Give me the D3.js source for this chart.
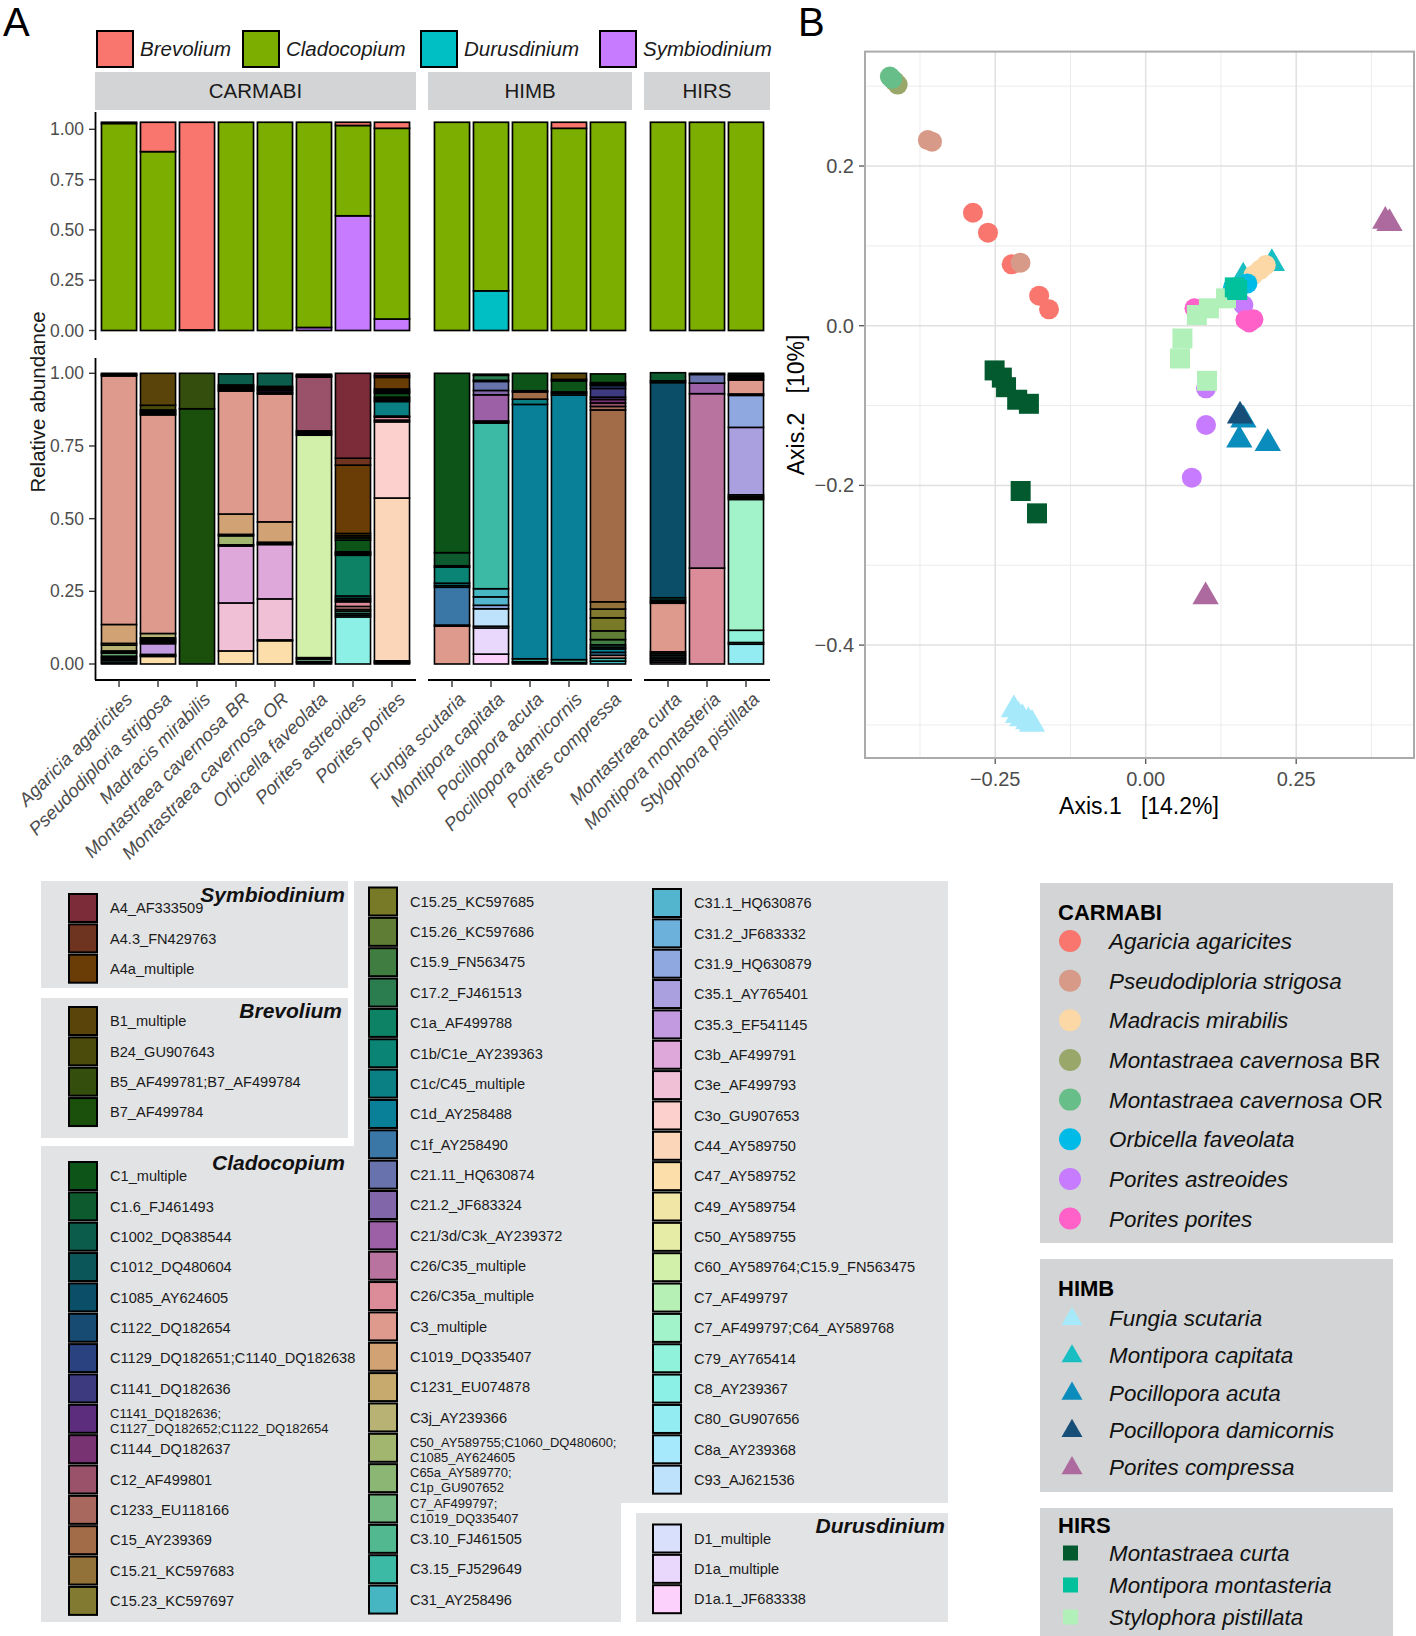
<!DOCTYPE html>
<html><head><meta charset="utf-8">
<script src="https://cdn.jsdelivr.net/npm/d3@7"></script>
<style>
body{margin:0;background:#fff}
svg{display:block}
text{font-family:"Liberation Sans",Arial,Helvetica,sans-serif}
</style>
</head><body>
<svg id="chart" width="1416" height="1636"></svg>
<script>
// ---------------- DATA ----------------
const sites = ["CARMABI", "HIMB", "HIRS"];
const speciesCARMABI = ["Agaricia agaricites","Pseudodiploria strigosa","Madracis mirabilis","Montastraea cavernosa BR","Montastraea cavernosa OR","Orbicella faveolata","Porites astreoides","Porites porites"];
const speciesHIMB = ["Fungia scutaria","Montipora capitata","Pocillopora acuta","Pocillopora damicornis","Porites compressa"];
const speciesHIRS = ["Montastraea curta","Montipora montasteria","Stylophora pistillata"];
const colorsCARMABI = ["#F8766D","#D89A88","#FCD8A6","#99A86A","#68BE88","#00BBE8","#C77CFF","#FF61C9"];
const colorsHIMB = ["#A6E9FB","#19BEC2","#0A8CBC","#174E78","#AD6A9F"];
const colorsHIRS = ["#035A2E","#00C19B","#B1F1B9"];

const genera = ["Brevolium","Cladocopium","Durusdinium","Symbiodinium"];
const generaColors = ["#F8766D","#7CAE00","#00BFC4","#C77CFF"];
// per bar, in species order (CARMABI, HIMB, HIRS)
const brevolium    = [0.006,0.146,1.032,0,0,0,0.016,0.03,0,0,0,0.03,0,0,0,0];
const cladocopium  = [1.029,0.889,0.003,1.035,1.035,1.02,0.449,0.948,1.035,0.838,1.035,1.005,1.035,1.035,1.035,1.035];
const durusdinium  = [0,0,0,0,0,0,0,0,0,0.197,0,0,0,0,0,0];
const symbiodinium = [0,0,0,0,0,0.015,0.57,0.057,0,0,0,0,0,0,0,0];
const yTicksA = [0, 0.25, 0.5, 0.75, 1];

const subtypeNames = ["A4_AF333509","A4.3_FN429763","A4a_multiple",
"B1_multiple","B24_GU907643","B5_AF499781;B7_AF499784","B7_AF499784",
"C1_multiple","C1.6_FJ461493","C1002_DQ838544","C1012_DQ480604","C1085_AY624605","C1122_DQ182654","C1129_DQ182651;C1140_DQ182638","C1141_DQ182636","C1141_DQ182636;C1127_DQ182652;C1122_DQ182654","C1144_DQ182637","C12_AF499801","C1233_EU118166","C15_AY239369","C15.21_KC597683","C15.23_KC597697",
"C15.25_KC597685","C15.26_KC597686","C15.9_FN563475","C17.2_FJ461513","C1a_AF499788","C1b/C1e_AY239363","C1c/C45_multiple","C1d_AY258488","C1f_AY258490","C21.11_HQ630874","C21.2_JF683324","C21/3d/C3k_AY239372","C26/C35_multiple","C26/C35a_multiple","C3_multiple","C1019_DQ335407","C1231_EU074878","C3j_AY239366","C50_AY589755;C1060_DQ480600;C1085_AY624605","C65a_AY589770;C1p_GU907652","C7_AF499797;C1019_DQ335407","C3.10_FJ461505","C3.15_FJ529649","C31_AY258496",
"C31.1_HQ630876","C31.2_JF683332","C31.9_HQ630879","C35.1_AY765401","C35.3_EF541145","C3b_AF499791","C3e_AF499793","C3o_GU907653","C44_AY589750","C47_AY589752","C49_AY589754","C50_AY589755","C60_AY589764;C15.9_FN563475","C7_AF499797","C7_AF499797;C64_AY589768","C79_AY765414","C8_AY239367","C80_GU907656","C8a_AY239368","C93_AJ621536",
"D1_multiple","D1a_multiple","D1a.1_JF683338"];
const subtypeColors = ["#7b2c38","#6f3420","#6a3d06",
"#5b4409","#4b4b0c","#344e0e","#1a500c",
"#0c5417","#0d5a2f","#0b5c4a","#0a5659","#0a4f67","#174b72","#2a4280","#3e3a80","#5b2d7c","#773372","#99526a","#a9685e","#a26c48","#93723a","#827a30",
"#787a28","#5f7d34","#3f7d40","#2b7c4e","#0d8264","#0a8474","#0a8084","#0a8098","#3a76a6","#6872ac","#8266aa","#9c60a6","#b8749e","#dc8c98","#de9a8c","#d0a274","#c6aa6e","#b8b274","#a2b670","#8cb674","#72b880","#52b890","#3cbaa6","#46b6c2",
"#54b6ce","#6cb0dc","#90a8e0","#aaa0e0","#c29ae0","#dea8da","#f0c0d6","#fcd0cc","#fcd6b8","#fcdeaa","#f2e6a6","#e6eca6","#d2f0aa","#b6f0b4","#a2f2ca","#90f2da","#8cf0e6","#92ecf2","#a6e8fc","#bee2fc",
"#d8e0fc","#ead8fc","#fcd2fc"];

// subtype composition per bar (relative abundance)
const compAgaricia = [["C1_multiple",0.003],["C1002_DQ838544",0.003],["C15_AY239369",0.003],["C3_multiple",0.855],["C1019_DQ335407",0.065],["C1231_EU074878",0.006],["C3j_AY239366",0.02],["C50_AY589755;C1060_DQ480600;C1085_AY624605",0.004],["C65a_AY589770;C1p_GU907652",0.004],["C7_AF499797;C1019_DQ335407",0.01],["C3.10_FJ461505",0.005],["C3.15_FJ529649",0.005],["C31_AY258496",0.006],["C8_AY239367",0.007],["C93_AJ621536",0.004]];
const compPseudodiploria = [["B1_multiple",0.11],["B24_GU907643",0.016],["B5_AF499781;B7_AF499784",0.004],["C1_multiple",0.005],["C1002_DQ838544",0.004],["C15_AY239369",0.004],["C3_multiple",0.752],["C3j_AY239366",0.015],["C50_AY589755;C1060_DQ480600;C1085_AY624605",0.005],["C3.10_FJ461505",0.005],["C31_AY258496",0.005],["C35.1_AY765401",0.005],["C35.3_EF541145",0.037],["C3e_AF499793",0.004],["C44_AY589750",0.003],["C47_AY589752",0.026]];
const compMadracis = [["B5_AF499781;B7_AF499784",0.122],["B7_AF499784",0.878]];
const compMcavBR = [["C1002_DQ838544",0.038],["C1012_DQ480604",0.005],["C1085_AY624605",0.004],["C1141_DQ182636",0.004],["C1141_DQ182636;C1127_DQ182652;C1122_DQ182654",0.005],["C1144_DQ182637",0.003],["C3_multiple",0.423],["C1019_DQ335407",0.07],["C3j_AY239366",0.005],["C50_AY589755;C1060_DQ480600;C1085_AY624605",0.031],["C7_AF499797;C1019_DQ335407",0.004],["C3b_AF499791",0.196],["C3e_AF499793",0.165],["C47_AY589752",0.045]];
const compMcavOR = [["C1002_DQ838544",0.045],["C1012_DQ480604",0.005],["C1085_AY624605",0.005],["C1141_DQ182636",0.005],["C1141_DQ182636;C1127_DQ182652;C1122_DQ182654",0.007],["C1144_DQ182637",0.004],["C3_multiple",0.44],["C1019_DQ335407",0.07],["C3j_AY239366",0.004],["C50_AY589755;C1060_DQ480600;C1085_AY624605",0.004],["C3b_AF499791",0.187],["C3e_AF499793",0.141],["C3o_GU907653",0.003],["C47_AY589752",0.08]];
const compOrbicella = [["C1_multiple",0.004],["C1002_DQ838544",0.003],["C1085_AY624605",0.003],["C12_AF499801",0.185],["C15_AY239369",0.005],["C1d_AY258488",0.005],["C3_multiple",0.005],["C60_AY589764;C15.9_FN563475",0.765],["C7_AF499797",0.005],["C7_AF499797;C64_AY589768",0.008],["C8_AY239367",0.004],["C93_AJ621536",0.005]];
const compPastreoides = [["A4_AF333509",0.292],["A4.3_FN429763",0.024],["A4a_multiple",0.235],["B1_multiple",0.008],["B24_GU907643",0.007],["B7_AF499784",0.008],["C1_multiple",0.04],["C1.6_FJ461493",0.004],["C1002_DQ838544",0.004],["C1012_DQ480604",0.004],["C1a_AF499788",0.14],["C1b/C1e_AY239363",0.008],["C1c/C45_multiple",0.006],["C1d_AY258488",0.006],["C26/C35a_multiple",0.016],["C3_multiple",0.01],["C1019_DQ335407",0.006],["C3.10_FJ461505",0.008],["C3.15_FJ529649",0.006],["C31_AY258496",0.006],["C8_AY239367",0.162]];
const compPporites = [["A4_AF333509",0.008],["A4.3_FN429763",0.006],["A4a_multiple",0.04],["B1_multiple",0.005],["B24_GU907643",0.005],["B7_AF499784",0.005],["C1_multiple",0.013],["C1.6_FJ461493",0.005],["C1002_DQ838544",0.005],["C1a_AF499788",0.005],["C1c/C45_multiple",0.05],["C1d_AY258488",0.004],["C26/C35a_multiple",0.01],["C3_multiple",0.006],["C3o_GU907653",0.262],["C44_AY589750",0.56],["C47_AY589752",0.004],["C8_AY239367",0.004],["C93_AJ621536",0.003]];
const compFungia = [["C1_multiple",0.617],["C1.6_FJ461493",0.045],["C1002_DQ838544",0.005],["C1b/C1e_AY239363",0.055],["C1c/C45_multiple",0.008],["C1d_AY258488",0.006],["C1f_AY258490",0.13],["C21.11_HQ630874",0.004],["C3_multiple",0.13]];
const compMcapitata = [["C1_multiple",0.004],["C17.2_FJ461513",0.017],["C1a_AF499788",0.004],["C21.11_HQ630874",0.031],["C21.2_JF683324",0.015],["C21/3d/C3k_AY239372",0.09],["C26/C35_multiple",0.004],["C3_multiple",0.003],["C3.15_FJ529649",0.57],["C31_AY258496",0.028],["C31.1_HQ630876",0.029],["C31.9_HQ630879",0.012],["C93_AJ621536",0.06],["D1_multiple",0.006],["D1a_multiple",0.09],["D1a.1_JF683338",0.034]];
const compPacuta = [["C1_multiple",0.06],["C1.6_FJ461493",0.004],["C15_AY239369",0.025],["C1c/C45_multiple",0.018],["C1d_AY258488",0.875],["C3.15_FJ529649",0.01],["C31_AY258496",0.004],["C31.1_HQ630876",0.004]];
const compPdamicornis = [["B1_multiple",0.021],["B7_AF499784",0.005],["C1_multiple",0.038],["C1.6_FJ461493",0.005],["C1c/C45_multiple",0.006],["C1d_AY258488",0.91],["C3.15_FJ529649",0.01],["C31_AY258496",0.005]];
const compPcompressa = [["C1_multiple",0.03],["C1.6_FJ461493",0.005],["C1085_AY624605",0.005],["C1129_DQ182651;C1140_DQ182638",0.01],["C1141_DQ182636",0.03],["C1141_DQ182636;C1127_DQ182652;C1122_DQ182654",0.008],["C1144_DQ182637",0.012],["C12_AF499801",0.012],["C1233_EU118166",0.012],["C15_AY239369",0.66],["C15.21_KC597683",0.025],["C15.23_KC597697",0.03],["C15.25_KC597685",0.045],["C15.26_KC597686",0.03],["C15.9_FN563475",0.018],["C17.2_FJ461513",0.008],["C1b/C1e_AY239363",0.006],["C1d_AY258488",0.012],["C1f_AY258490",0.01],["C3_multiple",0.01],["C3.15_FJ529649",0.01],["C31_AY258496",0.01]];
const compMcurta = [["C1.6_FJ461493",0.028],["C1002_DQ838544",0.006],["C1085_AY624605",0.74],["C1c/C45_multiple",0.008],["C1d_AY258488",0.006],["C1f_AY258490",0.005],["C3_multiple",0.167],["C1019_DQ335407",0.006],["C3.10_FJ461505",0.006],["C31_AY258496",0.006],["C47_AY589752",0.006],["C8_AY239367",0.006],["D1_multiple",0.006],["D1a_multiple",0.006]];
const compMmontasteria = [["C1_multiple",0.004],["C21.11_HQ630874",0.03],["C21/3d/C3k_AY239372",0.036],["C26/C35_multiple",0.6],["C26/C35a_multiple",0.33]];
const compSpistillata = [["C1_multiple",0.006],["C1.6_FJ461493",0.006],["C1002_DQ838544",0.006],["C1085_AY624605",0.005],["C3_multiple",0.048],["C31_AY258496",0.005],["C31.9_HQ630879",0.11],["C35.1_AY765401",0.232],["C3b_AF499791",0.006],["C3e_AF499793",0.005],["C60_AY589764;C15.9_FN563475",0.005],["C7_AF499797;C64_AY589768",0.45],["C79_AY765414",0.042],["C8_AY239367",0.006],["C80_GU907656",0.068]];
const compositions = [compAgaricia,compPseudodiploria,compMadracis,compMcavBR,compMcavOR,compOrbicella,compPastreoides,compPporites,compFungia,compMcapitata,compPacuta,compPdamicornis,compPcompressa,compMcurta,compMmontasteria,compSpistillata];

// PCoA ordination (Axis.1, Axis.2)
const pcoaHIMB = [
 ["Fungia scutaria",-0.219,-0.481],["Fungia scutaria",-0.212,-0.488],["Fungia scutaria",-0.205,-0.492],["Fungia scutaria",-0.195,-0.496],["Fungia scutaria",-0.189,-0.499],
 ["Montipora capitata",0.2096,0.078],["Montipora capitata",0.162,0.061],
 ["Pocillopora acuta",0.1623,-0.118],["Pocillopora acuta",0.1555,-0.143],["Pocillopora acuta",0.2028,-0.1473],
 ["Pocillopora damicornis",0.1567,-0.113],
 ["Porites compressa",0.398,0.131],["Porites compressa",0.405,0.128],["Porites compressa",0.0995,-0.3394]];
const pcoaCARMABI = [
 ["Montastraea cavernosa BR",-0.412,0.302],["Montastraea cavernosa BR",-0.417,0.306],
 ["Montastraea cavernosa OR",-0.425,0.312],["Montastraea cavernosa OR",-0.421,0.309],
 ["Agaricia agaricites",-0.287,0.1415],["Agaricia agaricites",-0.262,0.1165],["Agaricia agaricites",-0.2226,0.0769],["Agaricia agaricites",-0.177,0.0376],["Agaricia agaricites",-0.1606,0.0205],
 ["Pseudodiploria strigosa",-0.362,0.2325],["Pseudodiploria strigosa",-0.355,0.2305],["Pseudodiploria strigosa",-0.208,0.0789],
 ["Madracis mirabilis",0.179,0.0635],["Madracis mirabilis",0.19,0.07],["Madracis mirabilis",0.1995,0.076],
 ["Orbicella faveolata",0.145,0.048],["Orbicella faveolata",0.169,0.053],
 ["Porites astreoides",0.1623,0.026],["Porites astreoides",0.1002,-0.0784],["Porites astreoides",0.1002,-0.1244],["Porites astreoides",0.0766,-0.1903],
 ["Porites porites",0.081,0.0218],["Porites porites",0.1656,0.0071],["Porites porites",0.179,0.008],["Porites porites",0.172,0.004]];
const pcoaHIRS = [
 ["Montastraea curta",-0.251,-0.056],["Montastraea curta",-0.239,-0.065],["Montastraea curta",-0.232,-0.077],["Montastraea curta",-0.2135,-0.0927],["Montastraea curta",-0.194,-0.0978],["Montastraea curta",-0.2077,-0.207],["Montastraea curta",-0.1806,-0.235],
 ["Stylophora pistillata",0.057,-0.041],["Stylophora pistillata",0.061,-0.016],["Stylophora pistillata",0.085,0.0134],["Stylophora pistillata",0.105,0.0218],["Stylophora pistillata",0.1334,0.0343],["Stylophora pistillata",0.1018,-0.069],
 ["Montipora montasteria",0.148,0.048],["Montipora montasteria",0.152,0.0447]];
const xTicksB = [-0.25, 0, 0.25];
const yTicksB = [-0.4, -0.2, 0, 0.2];
const xMinorB = [-0.375, -0.125, 0.125, 0.375];
const yMinorB = [-0.5, -0.3, -0.1, 0.1, 0.3];

// ---------------- DRAW ----------------
const svg = d3.select("#chart");
const TXT = "#1a1a1a", AX = "#4d4d4d";
const allSpecies = speciesCARMABI.concat(speciesHIMB, speciesHIRS);
const siteSpecies = [speciesCARMABI, speciesHIMB, speciesHIRS];
const facetX = [[95,416],[428,632],[644,770]];
const bands = siteSpecies.map((sp,i)=>d3.scaleBand().domain(sp).range(facetX[i]).paddingInner(0.1).paddingOuter(0.166));
const bandOf = s => bands[siteSpecies.findIndex(a=>a.includes(s))];
const subColor = d3.scaleOrdinal().domain(subtypeNames).range(subtypeColors);
const genColor = d3.scaleOrdinal().domain(genera).range(generaColors);

// panel letters
svg.append("text").attr("x",3).attr("y",36).attr("font-size",40).attr("fill","#000").text("A");
svg.append("text").attr("x",798).attr("y",36).attr("font-size",40).attr("fill","#000").text("B");

// genus legend
const glx = [97,243,421,600];
genera.forEach((g,i)=>{
  svg.append("rect").attr("x",glx[i]).attr("y",31).attr("width",36).attr("height",36)
    .attr("fill",genColor(g)).attr("stroke","#000").attr("stroke-width",2);
  svg.append("text").attr("x",glx[i]+43).attr("y",56).attr("font-size",20.5).attr("font-style","italic").attr("fill",TXT).text(g);
});

// strips
sites.forEach((s,i)=>{
  svg.append("rect").attr("x",facetX[i][0]).attr("y",72).attr("width",facetX[i][1]-facetX[i][0]).attr("height",38).attr("fill","#d3d4d5");
  svg.append("text").attr("x",(facetX[i][0]+facetX[i][1])/2).attr("y",91).attr("dy","0.35em").attr("text-anchor","middle")
    .attr("font-size",20.5).attr("fill",TXT).text(s);
});

// top panel: genus
const yTop = d3.scaleLinear().domain([0,1]).range([330.5,129.3]);
const genusRows = allSpecies.map((s,i)=>({species:s, Brevolium:brevolium[i], Cladocopium:cladocopium[i], Durusdinium:durusdinium[i], Symbiodinium:symbiodinium[i]}));
const genusStack = d3.stack().keys(genera.slice().reverse())(genusRows);
const gTop = svg.append("g");
genusStack.forEach(series=>{
  series.forEach(d=>{
    if (d[1]-d[0] <= 0) return;
    const b = bandOf(d.data.species);
    gTop.append("rect").attr("x",b(d.data.species)).attr("width",b.bandwidth())
      .attr("y",yTop(d[1])).attr("height",yTop(d[0])-yTop(d[1]))
      .attr("fill",genColor(series.key)).attr("stroke","#000").attr("stroke-width",1.7);
  });
});

// bottom panel: subtypes
const yBot = d3.scaleLinear().domain([0,1]).range([664,373.3]);
const subRows = allSpecies.map((s,i)=>{
  const o = {species:s};
  subtypeNames.forEach(n=>o[n]=0);
  compositions[i].forEach(([n,v])=>o[n]=v);
  return o;
});
const subStack = d3.stack().keys(subtypeNames.slice().reverse())(subRows);
const gBot = svg.append("g");
subStack.forEach(series=>{
  series.forEach(d=>{
    if (d[1]-d[0] <= 0) return;
    const b = bandOf(d.data.species);
    gBot.append("rect").attr("x",b(d.data.species)).attr("width",b.bandwidth())
      .attr("y",yBot(d[1])).attr("height",yBot(d[0])-yBot(d[1]))
      .attr("fill",subColor(series.key)).attr("stroke","#000").attr("stroke-width",1.6);
  });
});

// y axes panel A
function yAxisA(scale, y0, y1){
  const g = svg.append("g");
  g.append("line").attr("x1",95.5).attr("x2",95.5).attr("y1",y0).attr("y2",y1).attr("stroke","#000").attr("stroke-width",1.8);
  yTicksA.forEach(t=>{
    g.append("line").attr("x1",89).attr("x2",95).attr("y1",scale(t)).attr("y2",scale(t)).attr("stroke","#333").attr("stroke-width",1.4);
    g.append("text").attr("x",84).attr("y",scale(t)).attr("dy","0.35em").attr("text-anchor","end")
      .attr("font-size",17.5).attr("fill",AX).text(d3.format(".2f")(t));
  });
}
yAxisA(yTop,112,340);
yAxisA(yBot,358,680);
svg.append("text").attr("transform","translate(45,402) rotate(-90)").attr("text-anchor","middle")
  .attr("font-size",20.5).attr("fill",TXT).text("Relative abundance");

// x axes panel A
siteSpecies.forEach((sp,i)=>{
  const b = bands[i];
  svg.append("line").attr("x1",facetX[i][0]).attr("x2",facetX[i][1]).attr("y1",680).attr("y2",680).attr("stroke","#000").attr("stroke-width",1.8);
  sp.forEach(s=>{
    const cx = b(s)+b.bandwidth()/2;
    svg.append("line").attr("x1",cx).attr("x2",cx).attr("y1",680).attr("y2",687).attr("stroke","#333").attr("stroke-width",1.4);
    svg.append("text").attr("transform",`translate(${cx+5},691) rotate(-45)`).attr("dy","0.72em")
      .attr("text-anchor","end").attr("font-size",18.5).attr("font-style","italic").attr("fill",AX).text(s);
  });
});

// ---------------- Panel B ----------------
const xB = d3.scaleLinear().domain([-0.4663,0.4457]).range([865,1414]);
const yB = d3.scaleLinear().domain([-0.5414,0.3433]).range([758,51.6]);
const gB = svg.append("g");
gB.append("rect").attr("x",865).attr("y",51.6).attr("width",549).attr("height",706.4).attr("fill","#fff");
xMinorB.forEach(v=>gB.append("line").attr("x1",xB(v)).attr("x2",xB(v)).attr("y1",51.6).attr("y2",758).attr("stroke","#ececec").attr("stroke-width",1));
yMinorB.forEach(v=>gB.append("line").attr("y1",yB(v)).attr("y2",yB(v)).attr("x1",865).attr("x2",1414).attr("stroke","#ececec").attr("stroke-width",1));
xTicksB.forEach(v=>gB.append("line").attr("x1",xB(v)).attr("x2",xB(v)).attr("y1",51.6).attr("y2",758).attr("stroke","#e0e0e0").attr("stroke-width",1.5));
yTicksB.forEach(v=>gB.append("line").attr("y1",yB(v)).attr("y2",yB(v)).attr("x1",865).attr("x2",1414).attr("stroke","#e0e0e0").attr("stroke-width",1.5));

const colorOf = {};
speciesCARMABI.forEach((s,i)=>colorOf[s]=colorsCARMABI[i]);
speciesHIMB.forEach((s,i)=>colorOf[s]=colorsHIMB[i]);
speciesHIRS.forEach((s,i)=>colorOf[s]=colorsHIRS[i]);
const triPath = d3.symbol().type(d3.symbolTriangle).size(300)();
const sqPath = d3.symbol().type(d3.symbolSquare).size(400)();
pcoaHIMB.forEach(([s,x,y])=>gB.append("path").attr("d",triPath).attr("transform",`translate(${xB(x)},${yB(y)})`).attr("fill",colorOf[s]));
pcoaCARMABI.forEach(([s,x,y])=>gB.append("circle").attr("cx",xB(x)).attr("cy",yB(y)).attr("r",10).attr("fill",colorOf[s]));
pcoaHIRS.forEach(([s,x,y])=>gB.append("path").attr("d",sqPath).attr("transform",`translate(${xB(x)},${yB(y)})`).attr("fill",colorOf[s]));

gB.append("rect").attr("x",865).attr("y",51.6).attr("width",549).attr("height",706.4).attr("fill","none").attr("stroke","#ababab").attr("stroke-width",2);
xTicksB.forEach(v=>{
  gB.append("line").attr("x1",xB(v)).attr("x2",xB(v)).attr("y1",759).attr("y2",764).attr("stroke","#555").attr("stroke-width",1.3);
  gB.append("text").attr("x",xB(v)).attr("y",786).attr("text-anchor","middle").attr("font-size",20).attr("fill",AX).text(d3.format(".2f")(v));
});
yTicksB.forEach(v=>{
  gB.append("line").attr("x1",859).attr("x2",864).attr("y1",yB(v)).attr("y2",yB(v)).attr("stroke","#555").attr("stroke-width",1.3);
  gB.append("text").attr("x",854).attr("y",yB(v)).attr("dy","0.35em").attr("text-anchor","end").attr("font-size",20).attr("fill",AX).text(d3.format(".1f")(v));
});
gB.append("text").attr("x",1139).attr("y",814).attr("text-anchor","middle").attr("font-size",23).attr("fill","#000")
  .style("white-space","pre").text("Axis.1   [14.2%]");
gB.append("text").attr("transform","translate(804,405) rotate(-90)").attr("text-anchor","middle").attr("font-size",23).attr("fill","#000")
  .style("white-space","pre").text("Axis.2   [10%]");

// ---------------- Subtype legend ----------------
const LG = "#e2e3e5";
const gL = svg.append("g");
gL.append("rect").attr("x",41).attr("y",881).attr("width",907).attr("height",741).attr("fill",LG);
gL.append("rect").attr("x",0).attr("y",870).attr("width",354).attr("height",276).attr("fill","#fff");
gL.append("rect").attr("x",41).attr("y",881).attr("width",307).attr("height",107).attr("fill",LG);
gL.append("rect").attr("x",41).attr("y",998).attr("width",307).attr("height",140).attr("fill",LG);
gL.append("rect").attr("x",621).attr("y",1503).attr("width",340).attr("height",133).attr("fill","#fff");
gL.append("rect").attr("x",636).attr("y",1513).attr("width",312).attr("height",109).attr("fill",LG);

const titleSpec = [["Symbiodinium",345,902],["Brevolium",342,1018],["Cladocopium",345,1170],["Durusdinium",945,1533]];
titleSpec.forEach(([t,x,y])=>gL.append("text").attr("x",x).attr("y",y).attr("text-anchor","end").attr("font-size",21)
  .attr("font-weight","bold").attr("font-style","italic").attr("fill","#111").text(t));

const wrapFirst = {
  "C1141_DQ182636;C1127_DQ182652;C1122_DQ182654":"C1141_DQ182636;",
  "C50_AY589755;C1060_DQ480600;C1085_AY624605":"C50_AY589755;C1060_DQ480600;",
  "C65a_AY589770;C1p_GU907652":"C65a_AY589770;",
  "C7_AF499797;C1019_DQ335407":"C7_AF499797;"
};
const STEP = 30.35;
function keyPos(name){
  const g = name[0];
  const list = subtypeNames.filter(n=>n[0]===g);
  const i = list.indexOf(name);
  if (g==="A") return [69, 908+i*STEP];
  if (g==="B") return [69, 1021+i*STEP];
  if (g==="D") return [653, 1538.5+i*STEP];
  if (i<15) return [69, 1176+i*STEP];
  if (i<39) return [369, 901.5+(i-15)*STEP];
  return [653, 903+(i-39)*STEP];
}
subtypeNames.forEach(n=>{
  const [x,y] = keyPos(n);
  gL.append("rect").attr("x",x).attr("y",y-14).attr("width",28).attr("height",28)
    .attr("fill",subColor(n)).attr("stroke","#000").attr("stroke-width",2);
  if (wrapFirst[n]){
    const l1 = wrapFirst[n], l2 = n.slice(l1.length);
    gL.append("text").attr("x",x+41).attr("y",y-1).attr("font-size",13).attr("fill",TXT).text(l1);
    gL.append("text").attr("x",x+41).attr("y",y+14).attr("font-size",13).attr("fill",TXT).text(l2);
  } else {
    gL.append("text").attr("x",x+41).attr("y",y).attr("dy","0.36em").attr("font-size",14.6).attr("fill",TXT).text(n);
  }
});

// ---------------- Site / species legend ----------------
const RG = "#d2d4d5";
const legendGroups = [
  {title:"CARMABI", species:speciesCARMABI, box:[883,360], titleY:920, y0:941, step:39.65, shape:"circle"},
  {title:"HIMB", species:speciesHIMB, box:[1259,233], titleY:1296, y0:1318, step:37.3, shape:"triangle"},
  {title:"HIRS", species:speciesHIRS, box:[1508,128], titleY:1533, y0:1553, step:32, shape:"square"}
];
const triSmall = d3.symbol().type(d3.symbolTriangle).size(190)();
legendGroups.forEach(G=>{
  svg.append("rect").attr("x",1040).attr("y",G.box[0]).attr("width",353).attr("height",G.box[1]).attr("fill",RG);
  svg.append("text").attr("x",1058).attr("y",G.titleY).attr("font-size",22).attr("font-weight","bold").attr("fill","#000").text(G.title);
  G.species.forEach((s,i)=>{
    const y = G.y0 + i*G.step;
    if (G.shape==="circle") svg.append("circle").attr("cx",1070).attr("cy",y).attr("r",11).attr("fill",colorOf[s]);
    else if (G.shape==="triangle") svg.append("path").attr("d",triSmall).attr("transform",`translate(1072,${y+1})`).attr("fill",colorOf[s]);
    else svg.append("rect").attr("x",1063).attr("y",y-7.5).attr("width",15).attr("height",15).attr("fill",colorOf[s]);
    const t = svg.append("text").attr("x",1109).attr("y",y).attr("dy","0.36em").attr("font-size",22.4).attr("fill","#111");
    const m = s.match(/^(.*) (BR|OR)$/);
    if (m){
      t.append("tspan").attr("font-style","italic").text(m[1]+" ");
      t.append("tspan").text(m[2]);
    } else {
      t.attr("font-style","italic").text(s);
    }
  });
});
</script>
</body></html>
